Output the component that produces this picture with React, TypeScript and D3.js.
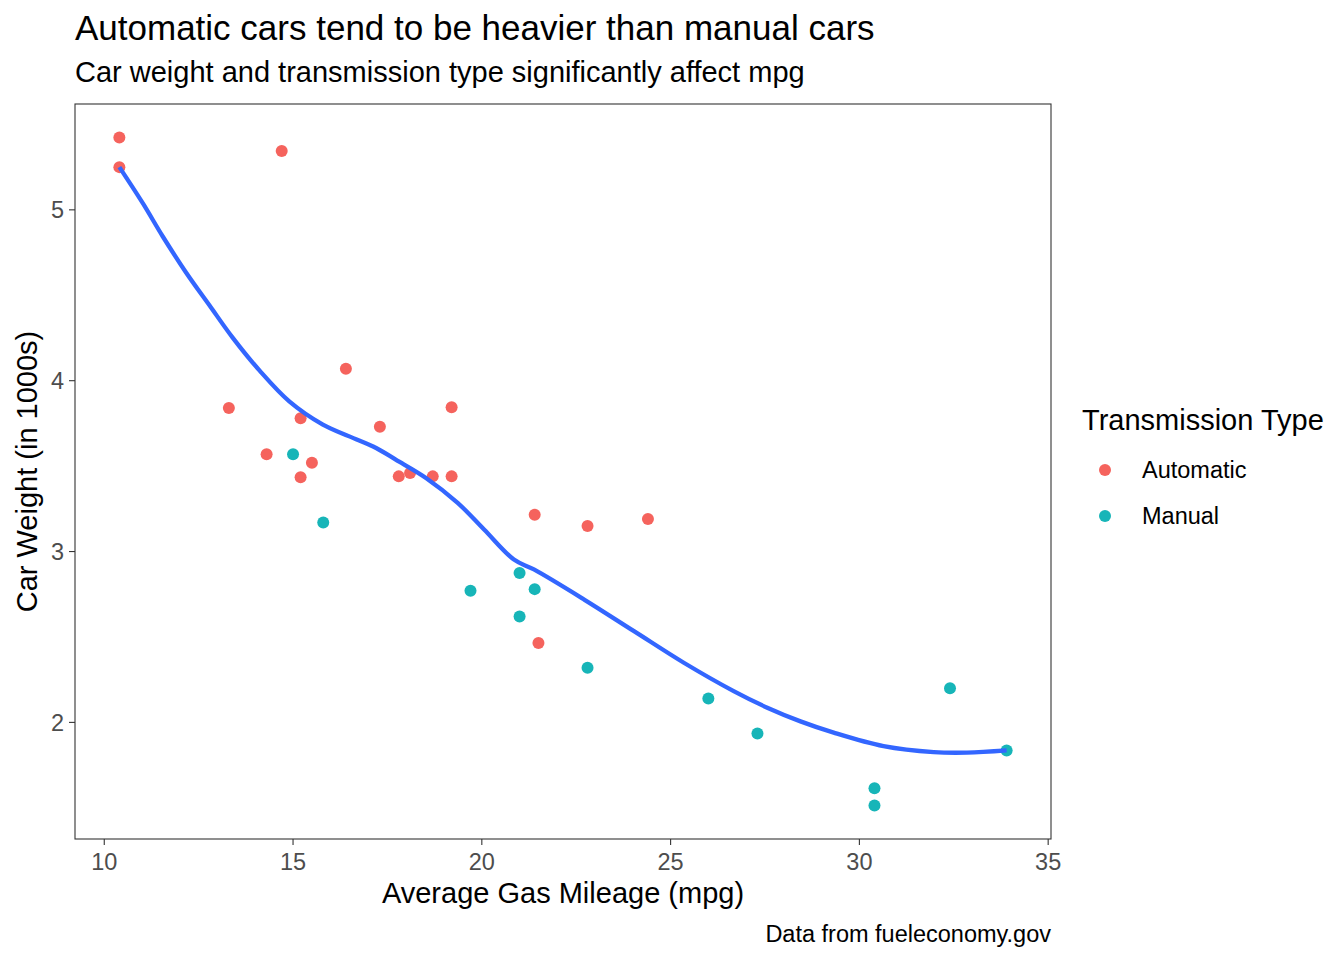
import * as d3 from "d3";
import React from "react";

// mtcars: mpg, wt (1000 lbs), transmission
const mpg = [
  21.0, 21.0, 22.8, 21.4, 18.7, 18.1, 14.3, 24.4, 22.8, 19.2, 17.8, 16.4, 17.3, 15.2, 10.4, 10.4,
  14.7, 32.4, 30.4, 33.9, 21.5, 15.5, 15.2, 13.3, 19.2, 27.3, 26.0, 30.4, 15.8, 19.7, 15.0, 21.4,
];
const weight = [
  2.62, 2.875, 2.32, 3.215, 3.44, 3.46, 3.57, 3.19, 3.15, 3.44, 3.44, 4.07, 3.73, 3.78, 5.25, 5.424,
  5.345, 2.2, 1.615, 1.835, 2.465, 3.52, 3.435, 3.84, 3.845, 1.935, 2.14, 1.513, 3.17, 2.77, 3.57, 2.78,
];
const transmission = [
  "Manual", "Manual", "Manual", "Automatic", "Automatic", "Automatic", "Automatic", "Automatic",
  "Automatic", "Automatic", "Automatic", "Automatic", "Automatic", "Automatic", "Automatic", "Automatic",
  "Automatic", "Manual", "Manual", "Manual", "Automatic", "Automatic", "Automatic", "Automatic",
  "Automatic", "Manual", "Manual", "Manual", "Manual", "Manual", "Manual", "Manual",
];

// smoothed trend
const smoothMpg = [
  10.4, 11.02, 11.55, 12.17, 12.79, 13.4, 14.11, 14.9, 15.79, 16.49, 17.2, 17.72, 18.52, 19.36, 20.06,
  20.85, 21.38, 22.71, 24.03, 25.35, 26.67, 27.56, 28.44, 29.32, 30.64, 31.97, 32.85, 33.9,
];
const smoothWeight = [
  5.25, 5.039, 4.844, 4.632, 4.44, 4.252, 4.06, 3.879, 3.743, 3.674, 3.606, 3.538, 3.431, 3.285, 3.129,
  2.953, 2.895, 2.719, 2.534, 2.349, 2.183, 2.086, 2.006, 1.94, 1.861, 1.826, 1.823, 1.836,
];

const xTicks = [10, 15, 20, 25, 30, 35];
const yTicks = [2, 3, 4, 5];
const groups = ["Automatic", "Manual"];
const groupColors = ["#F5635D", "#17B5B8"];

const W = 1344;
const H = 960;
const left = 75;
const right = 1051;
const top = 104;
const bottom = 839;
const font = "'Liberation Sans', Arial, Helvetica, sans-serif";

export default function App() {
  const xScale = d3.scaleLinear().domain([9.225, 35.075]).range([left, right]);
  const yScale = d3.scaleLinear().domain([1.3175, 5.6195]).range([bottom, top]);
  const color = d3.scaleOrdinal<string, string>().domain(groups).range(groupColors);

  const line = d3
    .line<number>()
    .x((d) => xScale(d))
    .y((_, i) => yScale(smoothWeight[i]))
    .curve(d3.curveCatmullRom.alpha(0.5));

  return (
    <div style={{ position: "absolute", left: 0, top: 0 }}>
      <svg width={W} height={H} style={{ display: "block", fontFamily: font }}>
        <rect width={W} height={H} fill="#fff" />
        <text x={75} y={40} fontSize={35} fill="#000">
          Automatic cars tend to be heavier than manual cars
        </text>
        <text x={75} y={82} fontSize={29} fill="#000">
          Car weight and transmission type significantly affect mpg
        </text>

        {mpg.map((m, i) => (
          <circle key={i} cx={xScale(m)} cy={yScale(weight[i])} r={6} fill={color(transmission[i])} />
        ))}
        <path d={line(smoothMpg) || ""} fill="none" stroke="#3366FF" strokeWidth={4.3} />

        <rect
          x={left}
          y={top}
          width={right - left}
          height={bottom - top}
          fill="none"
          stroke="#333333"
          strokeWidth={1.1}
        />

        {xTicks.map((t) => (
          <g key={t} transform={`translate(${xScale(t)},${bottom})`}>
            <line y2={6} stroke="#333333" strokeWidth={1.1} />
            <text y={31} textAnchor="middle" fontSize={23.5} fill="#4D4D4D">
              {t}
            </text>
          </g>
        ))}
        {yTicks.map((t) => (
          <g key={t} transform={`translate(${left},${yScale(t)})`}>
            <line x2={-6} stroke="#333333" strokeWidth={1.1} />
            <text x={-11} dy="0.35em" textAnchor="end" fontSize={23.5} fill="#4D4D4D">
              {t}
            </text>
          </g>
        ))}

        <text x={(left + right) / 2} y={903} textAnchor="middle" fontSize={29} fill="#000">
          Average Gas Mileage (mpg)
        </text>
        <text
          transform={`translate(37,${(top + bottom) / 2}) rotate(-90)`}
          textAnchor="middle"
          fontSize={29}
          fill="#000"
        >
          Car Weight (in 1000s)
        </text>
        <text x={right} y={942} textAnchor="end" fontSize={23.5} fill="#000">
          Data from fueleconomy.gov
        </text>

        <text x={1082} y={430} fontSize={29} fill="#000">
          Transmission Type
        </text>
        {groups.map((g, i) => (
          <g key={g} transform={`translate(1105,${470 + i * 46})`}>
            <circle r={6} fill={color(g)} />
            <text x={37} dy="0.35em" fontSize={23.5} fill="#000">
              {g}
            </text>
          </g>
        ))}
      </svg>
    </div>
  );
}
